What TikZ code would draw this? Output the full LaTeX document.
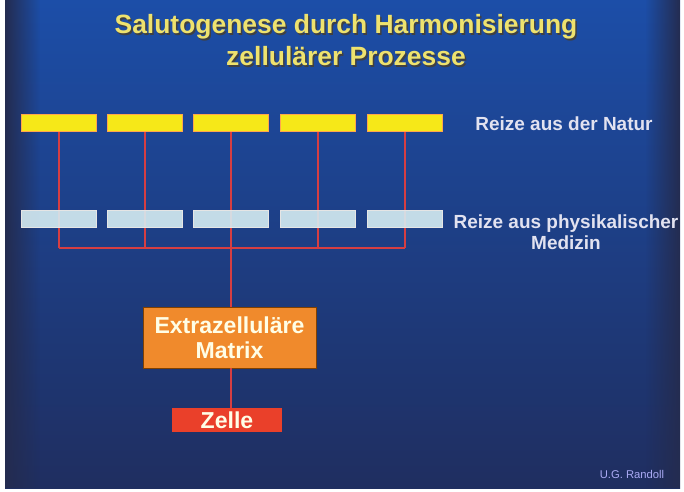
\documentclass[tikz,border=0pt]{standalone}
\usepackage{fontspec}
\setmainfont{Liberation Sans}
\usetikzlibrary{fadings}

\definecolor{slideblue}{RGB}{28,78,168}
\definecolor{slidenavy}{RGB}{31,46,96}
\definecolor{edgenavy}{RGB}{36,44,80}
\definecolor{natyellow}{RGB}{246,232,24}
\definecolor{medcyan}{RGB}{214,236,242}
\definecolor{busred}{RGB}{214,62,66}
\definecolor{matrixorange}{RGB}{240,138,44}
\definecolor{zellred}{RGB}{234,64,42}
\definecolor{titleyellow}{RGB}{238,226,110}
\definecolor{labelwhite}{RGB}{226,226,240}

\pgfdeclarelayer{bg}
\pgfdeclarelayer{lines}
\pgfsetlayers{bg,lines,main}

\begin{document}
\begin{tikzpicture}[x=0.025cm,y=-0.025cm,
    natbox/.style={fill=natyellow,draw=orange!70,line width=.3pt,minimum width=1.875cm,minimum height=.425cm,inner sep=0},
    medbox/.style={fill=medcyan,fill opacity=.9,draw=white!80!gray,line width=.3pt,minimum width=1.875cm,minimum height=.425cm,inner sep=0},
    bus/.style={draw=busred,line width=1.9pt},
    label/.style={text=labelwhite,align=center,font=\bfseries\fontsize{13.5}{15}\selectfont}]
  \useasboundingbox (0,0) rectangle (684,492);
  \begin{pgfonlayer}{bg}
    \fill[white] (0,0) rectangle (684,492);
    \shade[top color=slideblue,bottom color=slidenavy] (5,0) rectangle (680,488);
    \fill[edgenavy,path fading=east] (5,0) rectangle (40,488);
    \fill[edgenavy,path fading=west] (645,0) rectangle (680,488);
  \end{pgfonlayer}

  % title with shadow
  \node[text=black!75,align=center,font=\bfseries\fontsize{18.8}{22.8}\selectfont] (titleshadow) at (347.5,42)
    {Salutogenese durch Harmonisierung\\zellulärer Prozesse};
  \node[text=titleyellow,align=center,font=\bfseries\fontsize{18.8}{22.8}\selectfont] (title) at (346,40.5)
    {Salutogenese durch Harmonisierung\\zellulärer Prozesse};

  \foreach \i/\x in {1/59,2/145,3/231,4/318,5/405} {
    \node[natbox] (nat\i) at (\x,122.5) {};
    \node[medbox] (med\i) at (\x,218.5) {};
    \coordinate (bus\i) at (\x,248);
  }

  \node[label] (natur) at (564,124) {Reize aus der Natur};
  \node[label] (medizin) at (566,232.5) {Reize aus physikalischer\\Medizin};

  \node[fill=matrixorange,draw=orange!50!black,line width=.4pt,minimum width=4.325cm,minimum height=1.525cm,
    text=white!90!yellow,align=center,font=\bfseries\fontsize{16.4}{17.8}\selectfont] (matrix) at (229.5,337.5)
    {Extrazelluläre\\Matrix};
  \node[fill=zellred,minimum width=2.75cm,minimum height=.6cm,inner sep=0,
    text=white!90!yellow,font=\bfseries\fontsize{16.4}{17.8}\selectfont] (zelle) at (227,420) {Zelle};

  \begin{pgfonlayer}{lines}
    \foreach \i in {1,...,5}
      \draw[bus] (nat\i.south) -- (bus\i);
    \draw[bus] (bus1) -- (bus5);
    \draw[bus] (bus3) -- (bus3 |- matrix.north);
  \end{pgfonlayer}
  \draw[bus] (matrix.south -| bus3) -- (zelle.north -| bus3);

  \node[text=labelwhite!75!blue,font=\fontsize{8}{9}\selectfont] (credit) at (632,474) {U.G. Randoll};
\end{tikzpicture}
\end{document}
